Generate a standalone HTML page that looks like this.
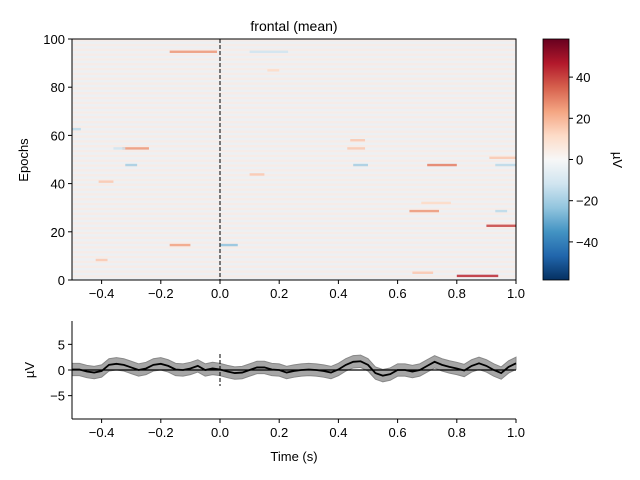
<!DOCTYPE html>
<html><head><meta charset="utf-8"><style>
body{margin:0;background:#fff}
svg{display:block;font-family:"Liberation Sans","DejaVu Sans",sans-serif}
</style></head><body>
<svg id="fig" width="640" height="480" viewBox="0 0 640 480">
<defs>
<linearGradient id="rdbu" x1="0" y1="1" x2="0" y2="0">
<stop offset="0" stop-color="#053061"/><stop offset="0.1" stop-color="#2166ac"/>
<stop offset="0.2" stop-color="#4393c3"/><stop offset="0.3" stop-color="#92c5de"/>
<stop offset="0.4" stop-color="#d1e5f0"/><stop offset="0.5" stop-color="#f7f7f7"/>
<stop offset="0.6" stop-color="#fddbc7"/><stop offset="0.7" stop-color="#f4a582"/>
<stop offset="0.8" stop-color="#d6604d"/><stop offset="0.9" stop-color="#b2182b"/>
<stop offset="1" stop-color="#67001f"/></linearGradient>
<pattern id="rows" x="0" y="39" width="7" height="4.82" patternUnits="userSpaceOnUse">
<rect x="0" y="0" width="7" height="2.41" fill="#f8e9e2"/>
<rect x="0" y="2.41" width="7" height="2.41" fill="#e9f0f5"/>
</pattern>
<clipPath id="clipTop"><rect x="72" y="39" width="444" height="241"/></clipPath>
</defs>
<text x="294" y="31" font-size="14" text-anchor="middle">frontal (mean)</text>
<rect x="72" y="39" width="444" height="241" fill="#f3f1f1"/>
<rect x="72" y="39" width="444" height="241" fill="url(#rows)" opacity="0.6"/>
<g id="streaks" clip-path="url(#clipTop)"></g>
<line x1="220" y1="39" x2="220" y2="280" stroke="#000" stroke-dasharray="4,2"/>
<rect x="72" y="39" width="444" height="241" fill="none" stroke="#000" stroke-width="1"/>
<g id="topAxes" font-size="13"></g>
<text transform="translate(28,160) rotate(-90)" font-size="13" text-anchor="middle">Epochs</text>
<rect x="543" y="39" width="26" height="241" fill="url(#rdbu)" stroke="#000" stroke-width="0.8"/>
<g id="cbAxes" font-size="13"></g>
<text transform="translate(613,160) rotate(90)" font-size="13" text-anchor="middle">µV</text>
<g id="erp"></g>
<line x1="72" y1="321" x2="72" y2="419" stroke="#000"/>
<line x1="72" y1="419" x2="516" y2="419" stroke="#000"/>
<g id="botAxes" font-size="13"></g>
<text transform="translate(34,370) rotate(-90)" font-size="13" text-anchor="middle">µV</text>
<text x="294" y="461" font-size="13" text-anchor="middle">Time (s)</text>
</svg>
<script>
const streakEpochs=[94.7,54.6,47.7,28.6,32,22.5,1.7,3,14.5,14.5,47.7,47.7,50.7,94.7,47.7,54.6,58,54.6,43.8,40.8,8.3,28.6,62.6,87];
const streakStart=[-0.17,-0.33,0.70,0.64,0.68,0.90,0.80,0.65,-0.17,0.0,0.45,0.93,0.91,0.10,-0.32,-0.36,0.44,0.43,0.10,-0.41,-0.42,0.93,-0.5,0.16];
const streakEnd=[-0.01,-0.24,0.80,0.74,0.78,1.0,0.94,0.72,-0.10,0.06,0.50,1.0,1.0,0.23,-0.28,-0.32,0.49,0.49,0.15,-0.36,-0.38,0.97,-0.47,0.20];
const streakValues=[26,26,30,26,12,40,44,16,24,-24,-20,-16,16,-12,-20,-12,16,16,16,16,16,-16,-16,12];
const erpTimes=[];for(let i=0;i<=60;i++)erpTimes.push(-0.5+i*0.025);
const erpValues=[0.1,0.1,-0.3,-0.5,-0.2,1.0,1.2,1.0,0.5,0,0.3,1.0,1.2,0.8,0.1,0,0.3,0.8,0,0.3,0.1,-0.3,-0.6,-0.5,0,0.5,0.5,0.1,0,-0.5,-0.2,0,0.1,0,-0.2,-0.5,0.1,1.0,1.6,1.7,1.0,-0.6,-1.1,-0.8,0,0,-0.3,0,0.8,1.6,1.0,0.6,0.3,-0.1,0.8,1.3,0.8,0,-0.6,0.6,1.3];
const erpSem=1.2;
const xTicks=[-0.4,-0.2,0.0,0.2,0.4,0.6,0.8,1.0];
const epochTicks=[0,20,40,60,80,100];
const cbTicks=[-40,-20,0,20,40];
const uvTicks=[-5,0,5];
const NS="http://www.w3.org/2000/svg";
const X=t=>72+(t+0.5)/1.5*444;
const YE=e=>280-e/100*241;
const YC=v=>159.5-v/58.5*120.5;
const YU=v=>370-v*5.13;
function mk(tag,attrs,parent){const el=document.createElementNS(NS,tag);for(const k in attrs)el.setAttribute(k,attrs[k]);parent.appendChild(el);return el;}
function rdbu(v){const s=[[5,48,97],[33,102,172],[67,147,195],[146,197,222],[209,229,240],[247,247,247],[253,219,199],[244,165,130],[214,96,77],[178,24,43],[103,0,31]];
 let p=(v/58.5+1)/2*10;p=Math.max(0,Math.min(10,p));const i=Math.min(9,Math.floor(p)),f=p-i;
 return 'rgb('+s[i].map((c,k)=>Math.round(c+(s[i+1][k]-c)*f)).join(',')+')';}
const sg=document.getElementById('streaks');
for(let i=0;i<streakEpochs.length;i++){
 const r=mk('rect',{x:X(streakStart[i]),y:YE(streakEpochs[i]+0.5),width:X(streakEnd[i])-X(streakStart[i]),height:2.4,fill:rdbu(streakValues[i]),opacity:0.85},sg);
 
 
}
const ta=document.getElementById('topAxes'),ba=document.getElementById('botAxes'),ca=document.getElementById('cbAxes');
xTicks.forEach(t=>{
 [[ta,280],[ba,419]].forEach(([g,y])=>{
  const l=mk('line',{x1:X(t),x2:X(t),y1:y,y2:y+4,stroke:'#000'},g);
  
  
  const tx=mk('text',{x:X(t),y:y+18,'text-anchor':'middle'},g);tx.textContent=t.toFixed(1).replace('-','\u2212');
  
  
 });
});
epochTicks.forEach(e=>{
 const l=mk('line',{x1:68,x2:72,y1:YE(e),y2:YE(e),stroke:'#000'},ta);
 
 
 const tx=mk('text',{x:65,y:YE(e)+5,'text-anchor':'end'},ta);tx.textContent=e;
 
 
});
cbTicks.forEach(v=>{
 const l=mk('line',{x1:569,x2:573,y1:YC(v),y2:YC(v),stroke:'#000'},ca);
 
 
 const tx=mk('text',{x:576,y:YC(v)+5},ca);tx.textContent=String(v).replace('-','\u2212');
 
 
});
uvTicks.forEach(v=>{
 const l=mk('line',{x1:68,x2:72,y1:YU(v),y2:YU(v),stroke:'#000'},ba);
 
 
 const tx=mk('text',{x:65,y:YU(v)+5,'text-anchor':'end'},ba);tx.textContent=String(v).replace('-','\u2212');
 
 
});
const eg=document.getElementById('erp');
let up=erpTimes.map((t,i)=>X(t)+','+YU(erpValues[i]+erpSem)).join(' ');
let dn=erpTimes.map((t,i)=>X(t)+','+YU(erpValues[i]-erpSem)).reverse().join(' ');
const band=mk('polygon',{points:up+' '+dn,fill:'#a6a6a6',stroke:'#888',"stroke-width":1},eg);


const zl=mk('line',{x1:72,x2:516,y1:YU(0),y2:YU(0),stroke:'#000','stroke-width':1.2},eg);


const ol=mk('line',{x1:X(0),x2:X(0),y1:354,y2:386,stroke:'#000','stroke-dasharray':'4,2'},eg);


const pl=mk('polyline',{points:erpTimes.map((t,i)=>X(t)+','+YU(erpValues[i])).join(' '),fill:'none',stroke:'#000','stroke-width':1.8},eg);


</script>
</body></html>
